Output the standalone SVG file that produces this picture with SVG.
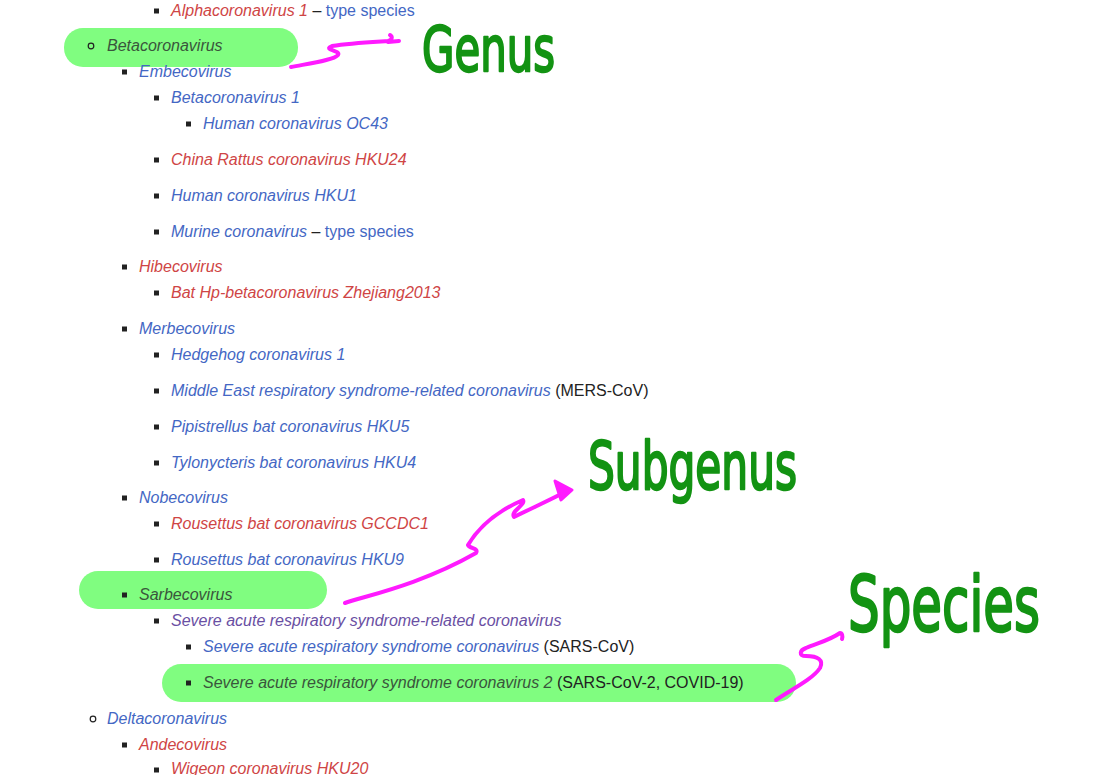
<svg xmlns="http://www.w3.org/2000/svg" width="1107" height="775" viewBox="0 0 1107 775">
<style>
text{font-family:"Liberation Sans",Arial,sans-serif;font-size:16px}
.i{font-style:italic}
.b{fill:#4467c4}.r{fill:#cf4545}.p{fill:#6a4fa3}.k{fill:#222}.h{fill:#3a553c}
.hl{fill:#80fd80}
.sq{fill:#222}
.ci{fill:none;stroke:#222;stroke-width:1.2}
text.hw{font-family:"DejaVu Sans","Liberation Sans",sans-serif;fill:#139313;stroke:#139313;stroke-width:1.6;stroke-linejoin:round}
.mg{fill:none;stroke:#ff1aff;stroke-width:4;stroke-linecap:round;stroke-linejoin:round}
</style>
<rect width="1107" height="775" fill="#fff"/>
<g id="highlights">
<rect class="hl" x="64" y="28" width="234" height="39" rx="19"/>
<rect class="hl" x="79" y="571" width="248" height="38" rx="19"/>
<rect class="hl" x="162" y="664" width="634" height="38" rx="19"/>
</g>
<g id="n1"><rect class="sq" x="154" y="8.5" width="5" height="5"/><text x="171" y="16"><tspan class="i r">Alphacoronavirus 1</tspan><tspan class="k"> – </tspan><tspan class="b">type species</tspan></text></g>
<g id="n2"><circle class="ci" cx="91" cy="46" r="2.8"/><text x="107" y="51" class="i h">Betacoronavirus</text></g>
<g id="n3"><rect class="sq" x="122" y="69.5" width="5" height="5"/><text x="139" y="77" class="i b">Embecovirus</text></g>
<g id="n4"><rect class="sq" x="154" y="95.5" width="5" height="5"/><text x="171" y="103" class="i b">Betacoronavirus 1</text></g>
<g id="n5"><rect class="sq" x="186" y="121.5" width="5" height="5"/><text x="203" y="129" class="i b">Human coronavirus OC43</text></g>
<g id="n6"><rect class="sq" x="154" y="157.5" width="5" height="5"/><text x="171" y="165" class="i r">China Rattus coronavirus HKU24</text></g>
<g id="n7"><rect class="sq" x="154" y="193.5" width="5" height="5"/><text x="171" y="201" class="i b">Human coronavirus HKU1</text></g>
<g id="n8"><rect class="sq" x="154" y="229.5" width="5" height="5"/><text x="171" y="237"><tspan class="i b">Murine coronavirus</tspan><tspan class="k"> – </tspan><tspan class="b">type species</tspan></text></g>
<g id="n9"><rect class="sq" x="122" y="264.5" width="5" height="5"/><text x="139" y="272" class="i r">Hibecovirus</text></g>
<g id="n10"><rect class="sq" x="154" y="290.5" width="5" height="5"/><text x="171" y="298" class="i r">Bat Hp-betacoronavirus Zhejiang2013</text></g>
<g id="n11"><rect class="sq" x="122" y="326.5" width="5" height="5"/><text x="139" y="334" class="i b">Merbecovirus</text></g>
<g id="n12"><rect class="sq" x="154" y="352.5" width="5" height="5"/><text x="171" y="360" class="i b">Hedgehog coronavirus 1</text></g>
<g id="n13"><rect class="sq" x="154" y="388.5" width="5" height="5"/><text x="171" y="396"><tspan class="i b">Middle East respiratory syndrome-related coronavirus</tspan><tspan class="k"> (MERS-CoV)</tspan></text></g>
<g id="n14"><rect class="sq" x="154" y="424.5" width="5" height="5"/><text x="171" y="432" class="i b">Pipistrellus bat coronavirus HKU5</text></g>
<g id="n15"><rect class="sq" x="154" y="460.5" width="5" height="5"/><text x="171" y="468" class="i b">Tylonycteris bat coronavirus HKU4</text></g>
<g id="n16"><rect class="sq" x="122" y="495.5" width="5" height="5"/><text x="139" y="503" class="i b">Nobecovirus</text></g>
<g id="n17"><rect class="sq" x="154" y="521.5" width="5" height="5"/><text x="171" y="529" class="i r">Rousettus bat coronavirus GCCDC1</text></g>
<g id="n18"><rect class="sq" x="154" y="557.5" width="5" height="5"/><text x="171" y="565" class="i b">Rousettus bat coronavirus HKU9</text></g>
<g id="n19"><rect class="sq" x="122" y="592.5" width="5" height="5"/><text x="139" y="600" class="i h">Sarbecovirus</text></g>
<g id="n20"><rect class="sq" x="154" y="618.5" width="5" height="5"/><text x="171" y="626" class="i p">Severe acute respiratory syndrome-related coronavirus</text></g>
<g id="n21"><rect class="sq" x="186" y="644.5" width="5" height="5"/><text x="203" y="652"><tspan class="i b">Severe acute respiratory syndrome coronavirus</tspan><tspan class="k"> (SARS-CoV)</tspan></text></g>
<g id="n22"><rect class="sq" x="186" y="680.5" width="5" height="5"/><text x="203" y="688"><tspan class="i h">Severe acute respiratory syndrome coronavirus 2</tspan><tspan class="k"> (SARS-CoV-2, COVID-19)</tspan></text></g>
<g id="n23"><circle class="ci" cx="93" cy="719" r="2.8"/><text x="107" y="724" class="i b">Deltacoronavirus</text></g>
<g id="n24"><rect class="sq" x="122" y="742.5" width="5" height="5"/><text x="139" y="750" class="i r">Andecovirus</text></g>
<g id="n25"><rect class="sq" x="154" y="767.5" width="5" height="5"/><text x="171" y="774" class="i r">Wigeon coronavirus HKU20</text></g>
<g id="labels">
<text class="hw" transform="translate(422,71) scale(1,1.5)" style="font-size:42px" textLength="133" lengthAdjust="spacingAndGlyphs">Genus</text>
<text class="hw" transform="translate(588,489) scale(1,1.55)" style="font-size:42px" textLength="209" lengthAdjust="spacingAndGlyphs">Subgenus</text>
<text class="hw" transform="translate(848,631) scale(1,1.6)" style="font-size:48px" textLength="192" lengthAdjust="spacingAndGlyphs">Species</text>
</g>
<g id="connectors">
<path class="mg" d="M291,67 C312,63 334,60 338,55 C341,50 322,50 332,46 C350,43 372,42 388,41 C392,40 393,37 390,35 M388,42 L399,41"/>
<path class="mg" d="M345,603 C365,596 420,585 476,553 C479,548 470,549 468,545 C480,525 500,510 523,500 C526,505 510,511 514,517 C532,508 550,500 567,491"/>
<path d="M555,481 L572,490 L561,500 Z" fill="#ff1aff" stroke="#ff1aff" stroke-width="3" stroke-linejoin="round"/>
<path class="mg" d="M776,700 C790,690 812,680 820,668 C824,660 818,656 806,656 C798,656 800,650 806,648 C818,643 830,640 840,633 C842,633 843,636 842,639"/>
</g>
</svg>
